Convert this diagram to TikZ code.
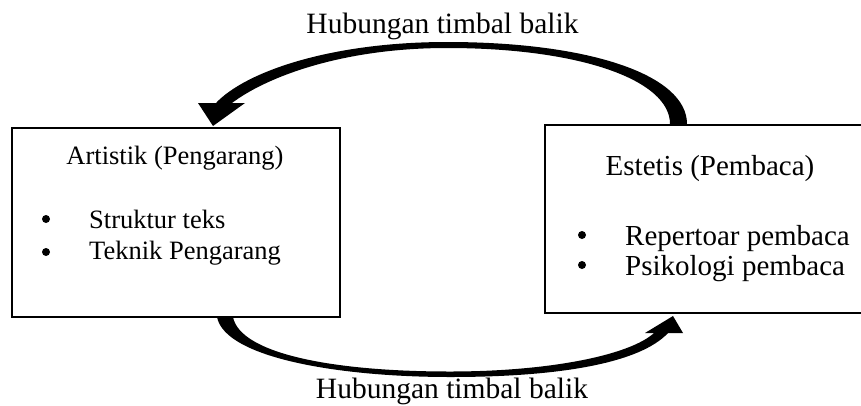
\documentclass[tikz,border=0pt]{standalone}
\usepackage{fontspec}
\setmainfont{Liberation Serif}
\begin{document}
\begin{tikzpicture}[x=1pt,y=-1pt,
  box/.style={draw=black,line width=1.8pt,fill=none,inner sep=0pt},
  lbl/.style={font=\fontsize{29.5}{32}\selectfont,inner sep=0pt,anchor=base},
  ltxt/.style={font=\fontsize{26.5}{30}\selectfont,inner sep=0pt,anchor=base west},
  rtxt/.style={font=\fontsize{29}{32}\selectfont,inner sep=0pt,anchor=base west},
  bul/.style={circle,fill=black,inner sep=0pt,minimum size=8pt},
  arr/.style={fill=black,draw=none}]
\useasboundingbox (0,0) rectangle (861,405);
% boxes
\node[box,minimum width=328pt,minimum height=189pt] (A) at (176,222.5) {};
\node[box,minimum width=330pt,minimum height=188pt] (E) at (710,219) {};
% left box text
\node[ltxt,anchor=base] (at) at (175,164) {Artistik (Pengarang)};
\node[bul] (b1) at (46,219) {};
\node[bul] (b2) at (46,252) {};
\node[ltxt] (l1) at (89,228) {Struktur teks};
\node[ltxt] (l2) at (89,259) {Teknik Pengarang};
% right box text
\node[rtxt,anchor=base] (et) at (710,175) {Estetis (Pembaca)};
\node[bul] (b3) at (582,235) {};
\node[bul] (b4) at (582,265) {};
\node[rtxt] (r1) at (625,245) {Repertoar pembaca};
\node[rtxt] (r2) at (625,275) {Psikologi pembaca};
% labels
\node[lbl] (top) at (442.5,33) {Hubungan timbal balik};
\node[lbl] (bot) at (452,398) {Hubungan timbal balik};
% top arrow (from E to A)
\fill[arr] (687,124) .. controls (687,75) and (590,42) .. (447,42)
  .. controls (330,42) and (245,72) .. (216,103)
  -- (232,103) .. controls (265,78) and (340,48) .. (447,48)
  .. controls (580,48) and (670,80) .. (670,124) -- cycle;
\fill[arr] (198,103) -- (213,126) -- (245,103) -- cycle;
% bottom arrow (from A to E)
\fill[arr] (217,317) .. controls (225,358) and (340,377) .. (450,377)
  .. controls (560,377) and (640,363) .. (668,333)
  -- (654,333) .. controls (630,355) and (550,371.5) .. (450,371.5)
  .. controls (330,371.5) and (240,353) .. (233,317) -- cycle;
\fill[arr] (645,333) -- (673,316) -- (683,333) -- cycle;
\end{tikzpicture}
\end{document}
